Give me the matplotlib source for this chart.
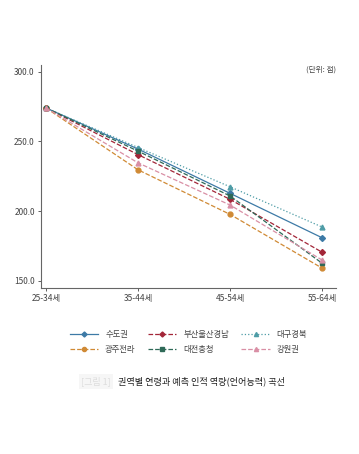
import matplotlib.pyplot as plt

plt.rcParams['font.family'] = ['Noto Sans CJK KR', 'DejaVu Sans']

# age groups on the x axis
ages = ['25-34세', '35-44세', '45-54세', '55-64세']

# predicted scores per region
sudo = [274.0, 244.5, 212.7, 180.8]
busan = [274.0, 240.5, 208.4, 170.4]
daegu = [274.0, 245.6, 217.4, 188.5]
gwangju = [274.0, 229.6, 197.6, 159.0]
daejeon = [274.0, 243.0, 210.8, 162.5]
gangwon = [274.0, 234.6, 204.3, 164.8]

yticks = [150, 200, 250, 300]

fig = plt.figure(figsize=(3.59, 4.54), dpi=100)
ax = fig.add_axes([0.1142, 0.3656, 0.8217, 0.4912])

x = range(len(ages))
ms = 3.0
lw = 0.9
h_sudo, = ax.plot(x, sudo, '-', color='#3d7aa6', marker='D', ms=ms, lw=lw, label='수도권')
h_busan, = ax.plot(x, busan, '--', color='#a32638', marker='D', ms=ms, lw=lw, label='부산울산경남')
h_daegu, = ax.plot(x, daegu, ':', color='#4e9ca6', marker='^', ms=ms + 0.5, lw=lw, label='대구경북')
h_gwangju, = ax.plot(x, gwangju, '--', color='#d08a35', marker='o', ms=ms + 0.5, lw=lw, label='광주전라')
h_daejeon, = ax.plot(x, daejeon, '--', color='#2f6a58', marker='s', ms=ms, lw=lw, label='대전충청')
h_gangwon, = ax.plot(x, gangwon, '--', color='#d98fa5', marker='^', ms=ms + 0.5, lw=lw, label='강원권')

ax.set_xlim(-0.054, 3.149)
ax.set_ylim(144.8, 304.8)
ax.set_xticks(list(x))
ax.set_xticklabels(ages)
ax.set_yticks(yticks)
ax.set_yticklabels([f'{v:.1f}' for v in yticks])
ax.tick_params(labelsize=6, colors='#444444', length=2.5, width=0.6, pad=2)
for side in ['top', 'right']:
    ax.spines[side].set_visible(False)
for side in ['left', 'bottom']:
    ax.spines[side].set_color('#666666')
    ax.spines[side].set_linewidth(0.8)

fig.text(0.935, 0.842, '(단위: 점)', fontsize=5.5, color='#444444', ha='right')

# legend filled column by column, so order the handles to read row-wise
handles = [h_sudo, h_gwangju, h_busan, h_daejeon, h_daegu, h_gangwon]
fig.legend(handles=handles, labels=[h.get_label() for h in handles], ncol=3,
           loc='center', bbox_to_anchor=(0.525, 0.247), frameon=False,
           fontsize=6, handlelength=3.4, columnspacing=1.5, labelspacing=0.7,
           handletextpad=0.8, labelcolor='#444444', markerscale=0.85)

fig.text(0.268, 0.16, '[그림 1]', fontsize=6.5, color='#dddddd', ha='center', va='center',
         bbox=dict(boxstyle='square,pad=0.25', fc='#f6f6f6', ec='none'))
fig.text(0.328, 0.16, '권역별 연령과 예측 인적 역량(언어능력) 곡선', fontsize=6.6,
         color='#222222', ha='left', va='center')

fig.savefig('out.png', dpi=100)
